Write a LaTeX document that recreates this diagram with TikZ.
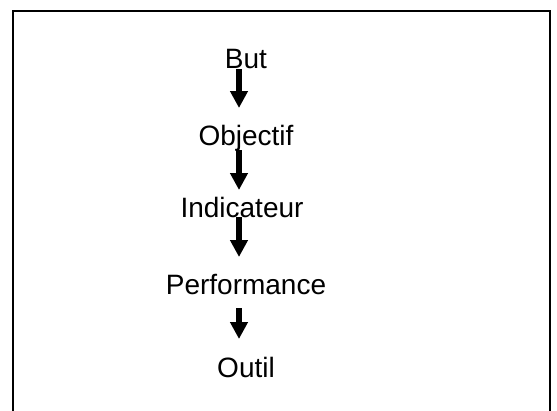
\documentclass[tikz,border=0pt]{standalone}
\usepackage{fontspec}
\setmainfont{Liberation Sans}
\usetikzlibrary{arrows.meta}

\begin{document}
\begin{tikzpicture}[x=1pt, y=-1pt,
    word/.style={anchor=base, inner sep=0pt, font=\fontsize{28}{32}\selectfont},
    flow/.style={line width=5.5pt, -{Triangle[length=17pt, width=17pt]}}]
    \useasboundingbox (0,0) rectangle (557,410);
    \draw[line width=2pt] (13,411) |- (550,11) -- (550,411);

    \node[word] (but) at (246,68) {But};
    \node[word] (obj) at (246,145) {Objectif};
    \node[word] (ind) at (242,217) {Indicateur};
    \node[word] (perf) at (246,294) {Performance};
    \node[word] (outil) at (246,377) {Outil};

    \draw[flow] ([shift={(-7pt,-1pt)}]but.base) -- ([shift={(-7pt,37pt)}]obj.base);
    \draw[flow] ([shift={(-7pt,-5pt)}]obj.base) -- ([shift={(-3pt,27pt)}]ind.base);
    \draw[flow] ([shift={(-3pt,0pt)}]ind.base) -- ([shift={(-7pt,37pt)}]perf.base);
    \draw[flow] ([shift={(-7pt,-14pt)}]perf.base) -- ([shift={(-7pt,38pt)}]outil.base);
\end{tikzpicture}
\end{document}
